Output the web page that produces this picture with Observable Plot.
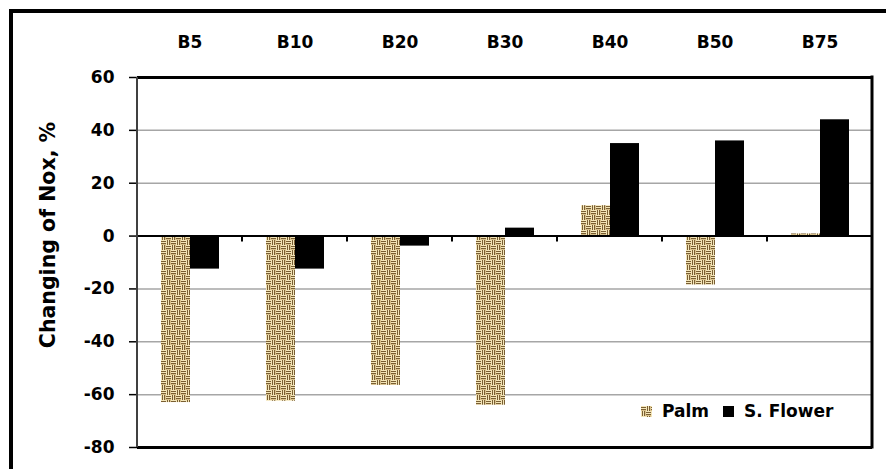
<!DOCTYPE html>
<html><head><meta charset="utf-8">
<script src="https://cdn.jsdelivr.net/npm/d3@7"></script>
<script src="https://cdn.jsdelivr.net/npm/@observablehq/plot@0.6"></script>
<style>
body{margin:0;background:#fff;}
#wrap{position:relative;width:886px;height:469px;overflow:hidden;background:#fff;font-family:"DejaVu Sans",Verdana,sans-serif;font-weight:bold;}
#outer{position:absolute;left:9px;top:9px;width:900px;height:500px;border-left:4px solid #000;border-top:4px solid #000;}
#chart{position:absolute;left:0;top:0;}
#ytitle{position:absolute;left:48px;top:235px;transform:translate(-50%,-50%) rotate(-90deg);font-size:20.5px;white-space:nowrap;color:#000;}
#legend{position:absolute;left:641px;top:401px;font-size:17px;display:flex;align-items:center;white-space:nowrap;color:#000;}
#legend .sw{display:inline-block;width:11px;height:11px;margin-right:10px;}
#legend .item{display:flex;align-items:center;margin-right:14px;}
</style></head>
<body><div id="wrap"><div id="outer"></div><div id="chart"></div><div id="ytitle"></div><div id="legend"></div></div>
<script>
const categories = ["B5","B10","B20","B30","B40","B50","B75"];
const series = ["Palm","S. Flower"];
const palmValues = [-63,-62.5,-56.5,-64,11.5,-18.5,0.8];
const flowerValues = [-12.5,-12.5,-3.8,3,35,36,44];
const yTicks = [60,40,20,0,-20,-40,-60,-80];
const yTitle = "Changing of Nox, %";

const data = categories.flatMap((c,i)=>[
  {category:c, series:series[0], value:palmValues[i]},
  {category:c, series:series[1], value:flowerValues[i]}
]);

const chart = Plot.plot({
  width: 886, height: 469,
  marginLeft: 136, marginRight: 14, marginTop: 77, marginBottom: 22,
  style: {fontFamily: "DejaVu Sans", fontWeight: "bold", fontSize: "17px", color: "#000", background: "transparent", overflow: "visible"},
  fx: {domain: categories, padding: 0, axis: "top", label: null, tickSize: 0, tickPadding: 30},
  x: {domain: series, axis: null, paddingInner: 0, paddingOuter: 0.76},
  y: {domain: [-80, 60], ticks: yTicks, label: null, tickSize: 8, tickPadding: 15, tickFormat: d => String(d)},
  marks: [
    Plot.ruleY(yTicks.filter(d => d !== 0 && d !== 60 && d !== -80), {stroke: "#a6a6a6", strokeWidth: 1.5}),
    Plot.barY(data.filter(d => d.series === series[0]), {fx: "category", x: "series", y: "value", fill: "url(#palm)"}),
    Plot.barY(data.filter(d => d.series === series[1]), {fx: "category", x: "series", y: "value", fill: "#000"}),
    Plot.ruleY([0], {stroke: "#000", strokeWidth: 2}),
    Plot.ruleY([60, -80], {stroke: "#000", strokeWidth: 3})
  ]
});

const svg = d3.select(chart);
const defs = svg.insert("defs", ":first-child");
function addPattern(defsSel, id) {
  const p = defsSel.append("pattern").attr("id", id).attr("patternUnits", "userSpaceOnUse").attr("width", 10).attr("height", 10);
  p.append("rect").attr("width", 10).attr("height", 10).attr("fill", "#d8c08a");
  const dark = "#7a5f33", light = "#f3e5b8";
  p.append("path").attr("d", "M0,1.5H5M0,3.5H5M5,6.5H10M5,8.5H10M6.5,0V5M8.5,0V5M1.5,5V10M3.5,5V10").attr("stroke", dark).attr("stroke-width", 1);
  p.append("path").attr("d", "M0,0.5H5M0,2.5H5M5,5.5H10M5,7.5H10M5.5,0V5M7.5,0V5M0.5,5V10M2.5,5V10").attr("stroke", light).attr("stroke-width", 1);
}
addPattern(defs, "palm");

svg.selectAll('[aria-label="y-axis tick"]').attr("stroke", "#8c8c8c").attr("stroke-width", 1.5);

const fx = chart.scale("fx");
const y = chart.scale("y");
const y0 = y.apply(0), yTop = y.apply(60), yBot = y.apply(-80);
const left = fx.apply(categories[0]);
const right = fx.apply(categories[categories.length-1]) + fx.bandwidth;
const g = svg.append("g");
g.append("line").attr("x1", left).attr("x2", left).attr("y1", yTop).attr("y2", yBot).attr("stroke", "#404040").attr("stroke-width", 2);
g.append("line").attr("x1", right).attr("x2", right).attr("y1", yTop - 1.5).attr("y2", yBot + 1.5).attr("stroke", "#000").attr("stroke-width", 3);
categories.slice(1).forEach(c => {
  const xx = fx.apply(c);
  g.append("line").attr("x1", xx).attr("x2", xx).attr("y1", y0).attr("y2", y0 + 6).attr("stroke", "#000").attr("stroke-width", 2);
});

document.getElementById("chart").appendChild(chart);
document.getElementById("ytitle").textContent = yTitle;

const leg = document.getElementById("legend");
series.forEach((s, i) => {
  const item = document.createElement("span");
  item.className = "item";
  const sw = document.createElementNS("http://www.w3.org/2000/svg", "svg");
  sw.setAttribute("class", "sw");
  sw.setAttribute("width", 11); sw.setAttribute("height", 11);
  const sd = d3.select(sw);
  if (i === 0) {
    addPattern(sd.append("defs"), "palmLegend");
    sd.append("rect").attr("width", 11).attr("height", 11).attr("fill", "url(#palmLegend)");
  } else {
    sd.append("rect").attr("width", 11).attr("height", 11).attr("fill", "#000");
  }
  item.appendChild(sw);
  const t = document.createElement("span");
  t.textContent = s;
  item.appendChild(t);
  leg.appendChild(item);
});
</script>
</body></html>
